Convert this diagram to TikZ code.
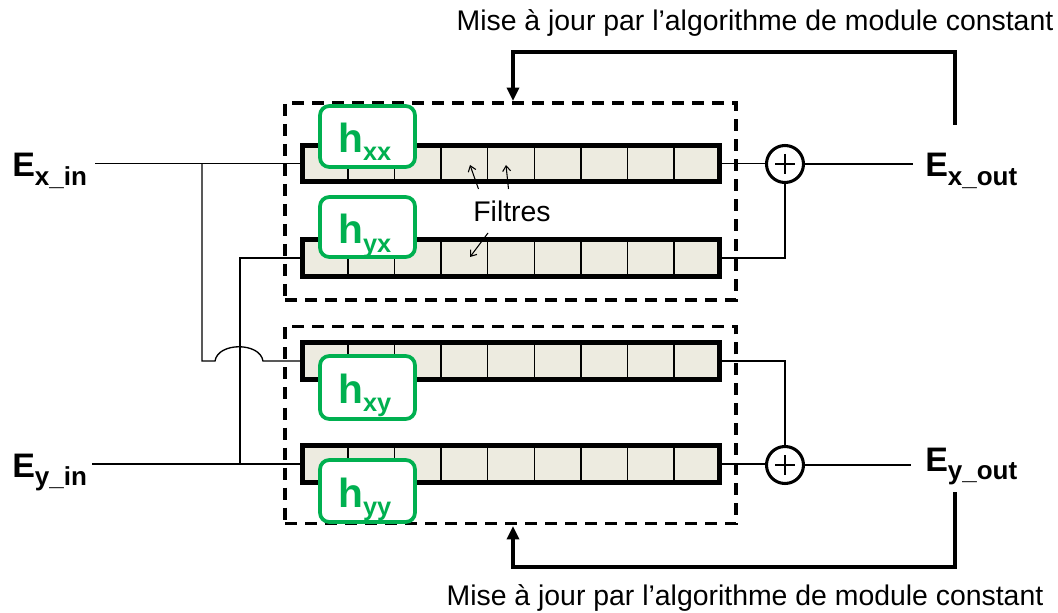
\documentclass[tikz,border=0pt]{standalone}
\usepackage{fontspec}
\setmainfont{Liberation Sans}
\usetikzlibrary{calc,arrows.meta}
\definecolor{hgreen}{HTML}{00B050}
\definecolor{barfill}{HTML}{EDEBE0}
\newcommand{\Elbl}[1]{\fontsize{25.5}{28}\selectfont\bfseries E\raisebox{-6.5pt}{\fontsize{19.5}{22}\selectfont #1}}
\newcommand{\hlbl}[1]{\fontsize{30.5}{34}\selectfont\bfseries h\raisebox{-6.2pt}{\fontsize{19}{20}\selectfont #1}}
\begin{document}
\begin{tikzpicture}[x=0.75pt,y=-0.75pt,
  wire/.style={line width=1pt},
  bar/.style={draw,line width=2.3pt,fill=barfill,minimum width=416*0.75pt,minimum height=35*0.75pt,inner sep=0pt},
  hbox/.style={draw=hgreen,line width=2.8pt,fill=white,rounded corners=7pt,minimum width=95*0.75pt,minimum height=61*0.75pt,inner sep=0pt},
  hlabel/.style={text=hgreen,inner sep=0pt,anchor=base west},
  dbox/.style={draw,line width=2.4pt,dash pattern=on 9pt off 6pt,minimum width=451*0.75pt,minimum height=197*0.75pt,inner sep=0pt},
  adder/.style={draw,circle,line width=2.3pt,minimum size=37*0.75pt,inner sep=0pt},
  elabel/.style={inner sep=0pt,anchor=base west},
  fb/.style={line width=2.4pt},
  fbarrow/.style={fb,-{Triangle[length=10pt,width=9pt]}},
  txt/.style={font=\fontsize{21.3}{24}\selectfont,inner sep=0pt,anchor=base},
  farrow/.style={line width=0.8pt,-{Straight Barb[length=4pt,width=6pt]}}
]
\useasboundingbox (0,0) rectangle (1058,613);

% dashed boxes
\node[dbox] (box1) at (510.5,201.5) {};
\node[dbox] (box2) at (510.5,425) {};

% filter bars
\foreach \n/\y in {b1/163.5,b2/258,b3/361,b4/464}{
  \node[bar] (\n) at (511,\y) {};
  \foreach \i in {1,...,8}{
    \draw[line width=1pt] ($(\n.north west)!\i/9!(\n.north east)$) -- ($(\n.south west)!\i/9!(\n.south east)$);
  }
  \draw[line width=2.3pt] (\n.north west) rectangle (\n.south east);
}

% green h boxes
\node[hbox] (hxx) at (367.5,136.5) {};
\node[hbox, minimum height=60*0.75pt] (hyx) at (367.5,227) {};
\node[hbox, minimum height=63*0.75pt] (hxy) at (367.5,387.5) {};
\node[hbox, minimum height=62*0.75pt] (hyy) at (367.5,491) {};
\node[hlabel] (thxx) at (338,152.5) {\hlbl{xx}};
\node[hlabel] (thyx) at (338,244) {\hlbl{yx}};
\node[hlabel] (thxy) at (338,403) {\hlbl{xy}};
\node[hlabel] (thyy) at (338,507) {\hlbl{yy}};

% labels
\node[elabel] (exin) at (12,177) {\Elbl{x\_in}};
\node[elabel] (eyin) at (12,477) {\Elbl{y\_in}};
\node[elabel] (exout) at (925,177) {\Elbl{x\_out}};
\node[elabel] (eyout) at (925,471) {\Elbl{y\_out}};

% adders
\node[adder] (a1) at (785,164) {};
\node[adder] (a2) at (785,465) {};
\foreach \a in {a1,a2}{
  \draw[line width=2.2pt] ($(\a)+(-10,0)$) -- ($(\a)+(10,0)$);
  \draw[line width=2.2pt] ($(\a)+(0,-10)$) -- ($(\a)+(0,10)$);
}

% input wiring
\coordinate (xs) at (95,163.5);
\coordinate (ys) at (92,464);
\coordinate (j1) at (202,163.5);
\coordinate (j2) at (240,464);
\draw[wire] (xs) -- (b1.west);
\draw[wire] (ys) -- (b4.west);
\draw[wire] (j2) -- (j2 |- b2.west) -- (b2.west);
\draw[wire] (j1) -- (202,361) -- (215,361) .. controls (218,342) and (260,342) .. (263,361) -- (b3.west);

% output wiring
\coordinate (xo) at (913,164);
\coordinate (yo) at (911,465);
\draw[wire] (b1.east) -- (b1.east -| a1.west) -- (a1.west);
\draw[wire] (a1.east) -- (xo);
\draw[wire] (b2.east) -- (b2.east -| a1) -- (a1.south);
\draw[wire] (b4.east) -- (b4.east -| a2.west) -- (a2.west);
\draw[wire] (a2.east) -- (yo);
\draw[wire] (b3.east) -- (b3.east -| a2) -- (a2.north);

% feedback
\coordinate (f1) at (955,125);
\coordinate (f2) at (955,492);
\draw[fbarrow] (f1) -- (955,52) -- (513,52) -- (513,101);
\draw[fbarrow] (f2) -- (955,567) -- (513,567) -- (513,526);
\node[txt] (t1) at (755,31) {Mise à jour par l’algorithme de module constant};
\node[txt] (t2) at (745,605) {Mise à jour par l’algorithme de module constant};

% Filtres
\node[txt] (filt) at (512,222) {Filtres};
\draw[farrow] (478.5,189) -- (470,165);
\draw[farrow] (508.5,189) -- (506,165);
\draw[farrow] (488,233) -- (470,257);
\end{tikzpicture}
\end{document}
